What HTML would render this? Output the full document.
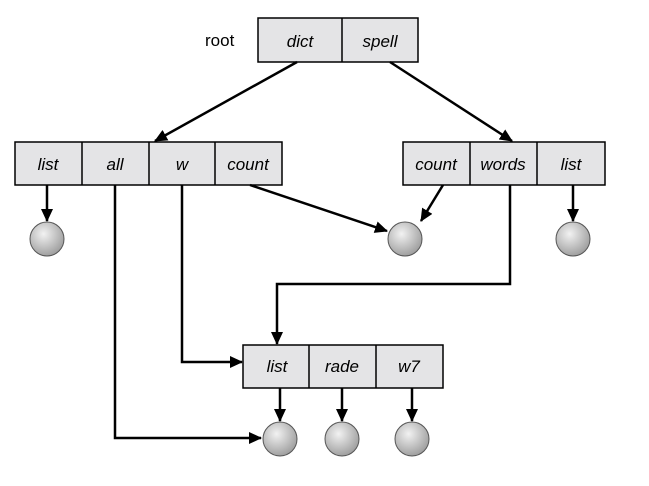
<!DOCTYPE html>
<html><head><style>body{margin:0;background:#fff}</style></head><body>
<svg width="649" height="481" xmlns="http://www.w3.org/2000/svg" font-family="Liberation Sans, sans-serif">
<defs>
<marker id="a" markerWidth="13" markerHeight="12" refX="12" refY="6" orient="auto" markerUnits="userSpaceOnUse"><path d="M0,0 L13,6 L0,12 z" fill="#000"/></marker>
<radialGradient id="g" cx="40%" cy="35%" r="70%"><stop offset="0" stop-color="#f2f2f2"/><stop offset="1" stop-color="#9a9a9a"/></radialGradient>
</defs>
<g fill="#e4e4e6" stroke="#000" stroke-width="1.5">
<rect x="258" y="18" width="160" height="44"/><line x1="342" y1="18" x2="342" y2="62"/>
<rect x="15" y="142" width="267" height="43"/><line x1="82" y1="142" x2="82" y2="185"/><line x1="149" y1="142" x2="149" y2="185"/><line x1="215" y1="142" x2="215" y2="185"/>
<rect x="403" y="142" width="202" height="43"/><line x1="470" y1="142" x2="470" y2="185"/><line x1="537" y1="142" x2="537" y2="185"/>
<rect x="243" y="345" width="200" height="43"/><line x1="309" y1="345" x2="309" y2="388"/><line x1="376" y1="345" x2="376" y2="388"/>
</g>
<g font-size="17" font-style="italic" text-anchor="middle">
<text x="300" y="47">dict</text><text x="380" y="47">spell</text>
<text x="48" y="170">list</text><text x="115" y="170">all</text><text x="182" y="170">w</text><text x="248" y="170">count</text>
<text x="436" y="170">count</text><text x="503" y="170">words</text><text x="571" y="170">list</text>
<text x="277" y="372">list</text><text x="342" y="372">rade</text><text x="409" y="372">w7</text>
</g>
<text x="205" y="46" font-size="17">root</text>
<g fill="url(#g)" stroke="#555" stroke-width="1">
<circle cx="47" cy="239" r="17"/><circle cx="405" cy="239" r="17"/><circle cx="573" cy="239" r="17"/>
<circle cx="280" cy="439" r="17"/><circle cx="342" cy="439" r="17"/><circle cx="412" cy="439" r="17"/>
</g>
<g stroke="#000" stroke-width="2.5" fill="none" marker-end="url(#a)">
<line x1="297" y1="62" x2="155" y2="141"/>
<line x1="390" y1="62" x2="512" y2="141"/>
<line x1="47" y1="185" x2="47" y2="221"/>
<line x1="250" y1="185" x2="387" y2="231"/>
<line x1="443" y1="185" x2="421" y2="221"/>
<line x1="573" y1="185" x2="573" y2="221"/>
<polyline points="115,185 115,438 261,438"/>
<polyline points="182,185 182,362 242,362"/>
<polyline points="510,185 510,284 277,284 277,344"/>
<line x1="280" y1="388" x2="280" y2="421"/>
<line x1="342" y1="388" x2="342" y2="421"/>
<line x1="412" y1="388" x2="412" y2="421"/>
</g>
</svg>
</body></html>
